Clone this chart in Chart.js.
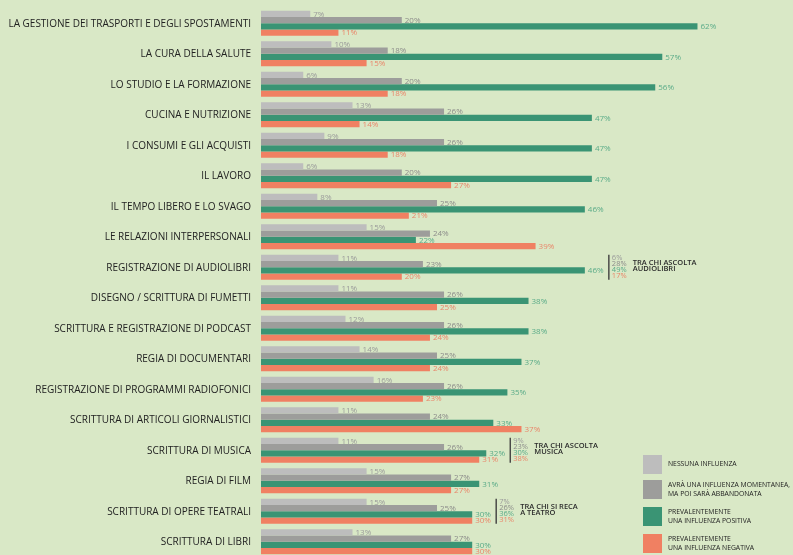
<!DOCTYPE html>
<html>
<head>
<meta charset="utf-8">
<script src="https://cdn.jsdelivr.net/npm/chart.js@4.4.0/dist/chart.umd.min.js"></script>
<style>
  html, body { margin: 0; padding: 0; background: #d9e8c6; overflow: hidden; }
  #wrap { width: 793px; height: 560px; position: relative; }
</style>
</head>
<body>
<div id="wrap"><canvas id="chart"></canvas></div>
<script>
// Categories and values (percent)
const categories = [
  'LA GESTIONE DEI TRASPORTI E DEGLI SPOSTAMENTI',
  'LA CURA DELLA SALUTE',
  'LO STUDIO E LA FORMAZIONE',
  'CUCINA E NUTRIZIONE',
  'I CONSUMI E GLI ACQUISTI',
  'IL LAVORO',
  'IL TEMPO LIBERO E LO SVAGO',
  'LE RELAZIONI INTERPERSONALI',
  'REGISTRAZIONE DI AUDIOLIBRI',
  'DISEGNO / SCRITTURA DI FUMETTI',
  'SCRITTURA E REGISTRAZIONE DI PODCAST',
  'REGIA DI DOCUMENTARI',
  'REGISTRAZIONE DI PROGRAMMI RADIOFONICI',
  'SCRITTURA DI ARTICOLI GIORNALISTICI',
  'SCRITTURA DI MUSICA',
  'REGIA DI FILM',
  'SCRITTURA DI OPERE TEATRALI',
  'SCRITTURA DI LIBRI'
];
const nessunaInfluenza    = [7, 10, 6, 13, 9, 6, 8, 15, 11, 11, 12, 14, 16, 11, 11, 15, 15, 13];
const influenzaMomentanea = [20, 18, 20, 26, 26, 20, 25, 24, 23, 26, 26, 25, 26, 24, 26, 27, 25, 27];
const influenzaPositiva   = [62, 57, 56, 47, 47, 47, 46, 22, 46, 38, 38, 37, 35, 33, 32, 31, 30, 30];
const influenzaNegativa   = [11, 15, 18, 14, 18, 27, 21, 39, 20, 25, 24, 24, 23, 37, 31, 27, 30, 30];

const seriesNames = [
  ['NESSUNA INFLUENZA'],
  ['AVRÀ UNA INFLUENZA MOMENTANEA,', 'MA POI SARÀ ABBANDONATA'],
  ['PREVALENTEMENTE', 'UNA INFLUENZA POSITIVA'],
  ['PREVALENTEMENTE', 'UNA INFLUENZA NEGATIVA']
];

// Sub-group notes shown to the right of some rows
const noteRows = [8, 14, 16];
const noteLabels = [
  ['TRA CHI ASCOLTA', 'AUDIOLIBRI'],
  ['TRA CHI ASCOLTA', 'MUSICA'],
  ['TRA CHI SI RECA', 'A TEATRO']
];
const noteValues = [
  [6, 28, 49, 17],
  [9, 23, 30, 38],
  [7, 26, 36, 31]
];

const barColors = ['#bdbdbd', '#9d9d9b', '#3a9474', '#f08062'];
const textColors = ['#9a9a9a', '#8c8c8a', '#5aab88', '#e9866a'];
const FONT = "'Open Sans', sans-serif";

// category labels drawn by hand so the chart area starts exactly at the left padding
const rowLabels = {
  id: 'rowLabels',
  afterDraw(chart) {
    const ctx = chart.ctx;
    const ys = chart.scales.y;
    ctx.save();
    ctx.font = '10px ' + FONT;
    ctx.fillStyle = '#222';
    ctx.textAlign = 'right';
    ctx.textBaseline = 'middle';
    categories.forEach((c, i) => {
      ctx.fillText(c, chart.chartArea.left - 10, ys.getPixelForValue(i) + 0.5);
    });
    ctx.restore();
  }
};

const valueLabels = {
  id: 'valueLabels',
  afterDatasetsDraw(chart) {
    const ctx = chart.ctx;
    ctx.save();
    ctx.font = '8px ' + FONT;
    ctx.textBaseline = 'middle';
    ctx.textAlign = 'left';
    chart.data.datasets.forEach((ds, i) => {
      const meta = chart.getDatasetMeta(i);
      ctx.fillStyle = textColors[i];
      meta.data.forEach((bar, j) => {
        ctx.fillText(ds.data[j] + '%', bar.x + 3, bar.y + 0.5);
      });
    });
    ctx.restore();
  }
};

const sideNotes = {
  id: 'sideNotes',
  afterDraw(chart) {
    const ctx = chart.ctx;
    const xs = chart.scales.x, ys = chart.scales.y;
    ctx.save();
    noteRows.forEach((row, n) => {
      const cy = ys.getPixelForValue(row);
      const maxVal = Math.max(...chart.data.datasets.map(ds => ds.data[row]));
      const lx = xs.getPixelForValue(maxVal) + 24;
      ctx.strokeStyle = '#4a4a48';
      ctx.lineWidth = 1.5;
      ctx.beginPath();
      ctx.moveTo(lx, cy - 12.5);
      ctx.lineTo(lx, cy + 12.5);
      ctx.stroke();
      ctx.font = '7.5px ' + FONT;
      ctx.textBaseline = 'middle';
      ctx.textAlign = 'left';
      noteValues[n].forEach((v, k) => {
        ctx.fillStyle = textColors[k];
        ctx.fillText(v + '%', lx + 3, cy - 9 + k * 6);
      });
      ctx.fillStyle = '#2b2b2b';
      ctx.font = '600 7.5px ' + FONT;
      noteLabels[n].forEach((t, k) => {
        ctx.fillText(t, lx + 24, cy - 4 + k * 6);
      });
    });
    ctx.restore();
  }
};

const legendBox = {
  id: 'legendBox',
  afterDraw(chart) {
    const ctx = chart.ctx;
    const tops = [455, 480, 507, 534];
    ctx.save();
    ctx.font = '6.8px ' + FONT;
    ctx.textBaseline = 'middle';
    ctx.textAlign = 'left';
    seriesNames.forEach((lines, i) => {
      ctx.fillStyle = barColors[i];
      ctx.fillRect(643, tops[i], 19, 19);
      ctx.fillStyle = '#222';
      const cy = tops[i] + 9.5;
      if (lines.length === 1) {
        ctx.fillText(lines[0], 668, cy);
      } else {
        ctx.fillText(lines[0], 668, cy - 4);
        ctx.fillText(lines[1], 668, cy + 5);
      }
    });
    ctx.restore();
  }
};

const allSeries = [nessunaInfluenza, influenzaMomentanea, influenzaPositiva, influenzaNegativa];

new Chart(document.getElementById('chart'), {
  type: 'bar',
  data: {
    labels: categories,
    datasets: allSeries.map((d, i) => ({
      label: seriesNames[i].join(' '),
      data: d,
      backgroundColor: barColors[i],
      borderWidth: 0,
      categoryPercentage: 0.82,
      barPercentage: 1.0
    }))
  },
  options: {
    indexAxis: 'y',
    responsive: true,
    maintainAspectRatio: false,
    animation: false,
    layout: { padding: { top: 8, bottom: 3, left: 261, right: 4 } },
    plugins: {
      legend: { display: false },
      tooltip: { enabled: false }
    },
    scales: {
      x: { display: false, min: 0, max: 75 },
      y: { display: false }
    }
  },
  plugins: [valueLabels, rowLabels, sideNotes, legendBox]
});
</script>
</body>
</html>
